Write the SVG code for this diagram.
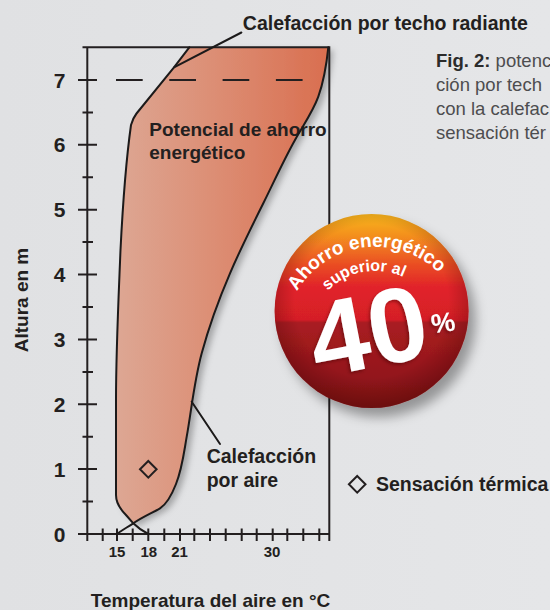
<svg xmlns="http://www.w3.org/2000/svg" width="550" height="610" viewBox="0 0 550 610">
<defs>
<style>
.ax{stroke:#231f20;stroke-width:2;fill:none}
.crv{stroke:#1c1a1a;stroke-width:2;fill:none;stroke-linejoin:round;stroke-linecap:round}
.lbl{font-family:"Liberation Sans",Arial,sans-serif;font-weight:bold;fill:#231f20}
.num{font-family:"Liberation Sans",Arial,sans-serif;font-weight:bold;fill:#231f20}
.cap{font-family:"Liberation Sans",Arial,sans-serif;font-size:18.5px;fill:#4d4d4f}
.bw{font-family:"Liberation Sans",Arial,sans-serif;font-weight:bold;fill:#ffffff}
</style>
<linearGradient id="bg" x1="0" y1="0" x2="1" y2="0">
<stop offset="0" stop-color="#e0e1e3"/>
<stop offset="1" stop-color="#e5e6e8"/>
</linearGradient>
<linearGradient id="area" gradientUnits="userSpaceOnUse" x1="112" y1="0" x2="330" y2="0">
<stop offset="0" stop-color="#dda895"/>
<stop offset="0.5" stop-color="#dc8c72"/>
<stop offset="1" stop-color="#d96e4f"/>
</linearGradient>
<linearGradient id="badgeG" x1="0" y1="0" x2="0" y2="1">
<stop offset="0" stop-color="#f8b81f"/>
<stop offset="0.12" stop-color="#f38c1f"/>
<stop offset="0.26" stop-color="#ea4e23"/>
<stop offset="0.38" stop-color="#e1222a"/>
<stop offset="0.545" stop-color="#d51f27"/>
<stop offset="0.56" stop-color="#a91c21"/>
<stop offset="1" stop-color="#861417"/>
</linearGradient>
<radialGradient id="badgeEdge" cx="0.5" cy="0.45" r="0.55">
<stop offset="0.72" stop-color="#3a0000" stop-opacity="0"/>
<stop offset="1" stop-color="#3a0000" stop-opacity="0.35"/>
</radialGradient>
<filter id="areaShadow" x="-20%" y="-10%" width="140%" height="120%">
<feDropShadow dx="5" dy="3" stdDeviation="3" flood-color="#000" flood-opacity="0.28"/>
</filter>
<filter id="badgeShadow" x="-30%" y="-30%" width="160%" height="160%">
<feDropShadow dx="7" dy="9" stdDeviation="6" flood-color="#000" flood-opacity="0.35"/>
</filter>
<filter id="txtShadow" x="-20%" y="-20%" width="140%" height="140%">
<feDropShadow dx="-1.5" dy="2" stdDeviation="1.5" flood-color="#400000" flood-opacity="0.45"/>
</filter>
<path id="arcOuter" d="M284.3,337.8 A91,91 0 0 1 466.3,337.8"/>
<path id="arcInner" d="M308.3,337.8 A67,67 0 0 1 442.3,337.8"/>
</defs>

<rect width="550" height="610" fill="url(#bg)"/>

<g id="savings-area">
<path filter="url(#areaShadow)" fill="url(#area)" d="M189.3,47.3 L328.3,47.3 C326.6,63.8 324.1,80.2 318.3,96.7 C313.2,111.1 303.1,125.6 295,140 C283.2,161.1 273.8,182.2 263.3,203.3 C251.6,226.6 240,250 230,273.3 C218.5,300 208.9,326.6 201.7,353.3 C194.2,381.1 191.6,408.9 186.7,436.7 C183.9,452.5 182.3,468.2 176,484 C172.5,493 167,504 160,508.3 C152,513 142,517 133.3,523.3 L126,515 C120,509 116,503 116,495 L116,400 C116,350 118.5,300 120.5,250 C123,200 127.5,150 131,125 Q133,118 136.5,113.5 L174,67.3 Z"/>
<text class="lbl" x="149.3" y="135.5" font-size="19">Potencial de ahorro</text>
<text class="lbl" x="149.3" y="158.5" font-size="19">energético</text>
</g>

<g id="axes">
<path class="ax" d="M87.3,47.3 V541 M82.5,47.3 H329.3 V541 M78,534 H329.3"/>
<path class="ax" d="M78,469.1H97 M78,404.3H97 M78,339.4H97 M78,274.6H97 M78,209.7H97 M78,144.8H97 M78,80H97"/>
<path class="ax" d="M82.5,501.6H93 M82.5,436.7H93 M82.5,371.9H93 M82.5,307H93 M82.5,242.1H93 M82.5,177.3H93 M82.5,112.4H93"/>
<path class="ax" d="M102.7,528.5V541 M117,528.5V541 M132.7,528.5V541 M148.3,528.5V541 M164.3,528.5V541 M180,528.5V541 M194.3,528.5V541 M210,528.5V541 M225.7,528.5V541 M241.7,528.5V541 M256.7,528.5V541 M272.7,528.5V541 M287.3,528.5V541 M303.3,528.5V541 M319.3,528.5V541"/>
<line x1="116" y1="80" x2="329.3" y2="80" stroke="#231f20" stroke-width="1.8" stroke-dasharray="26.7 26.6"/>
<g class="num" font-size="21" text-anchor="end">
<text x="65.5" y="541.5">0</text>
<text x="65.5" y="476.6">1</text>
<text x="65.5" y="411.8">2</text>
<text x="65.5" y="346.9">3</text>
<text x="65.5" y="282.1">4</text>
<text x="65.5" y="217.2">5</text>
<text x="65.5" y="152.3">6</text>
<text x="65.5" y="87.5">7</text>
</g>
<g class="num" font-size="15" text-anchor="middle">
<text x="117" y="557">15</text>
<text x="148.8" y="557">18</text>
<text x="179.6" y="557">21</text>
<text x="272" y="557">30</text>
</g>
<text class="lbl" font-size="19" text-anchor="middle" transform="translate(28.3,300) rotate(-90)">Altura en m</text>
<text class="lbl" font-size="19" text-anchor="middle" x="210.5" y="606.5">Temperatura del aire en °C</text>
</g>

<g id="curve-ceiling">
<path class="crv" d="M189.3,47.3 L174,67.3 L136.5,113.5 Q133,118 131,125 C127.5,150 123,200 120.5,250 C118.5,300 116,350 116,400 L116,495 C116,503 120,509 126,515 L133.3,523.3 C138,528 143,531.5 148.3,534"/>
<text class="lbl" x="242.8" y="29.5" font-size="19.5">Calefacción por techo radiante</text>
</g>

<g id="curve-air">
<path class="crv" d="M328.3,47.3 C326.6,63.8 324.1,80.2 318.3,96.7 C313.2,111.1 303.1,125.6 295,140 C283.2,161.1 273.8,182.2 263.3,203.3 C251.6,226.6 240,250 230,273.3 C218.5,300 208.9,326.6 201.7,353.3 C194.2,381.1 191.6,408.9 186.7,436.7 C183.9,452.5 182.3,468.2 176,484 C172.5,493 167,504 160,508.3 C152,513 142,517 133.3,523.3 C126,528 121,531 116.7,534"/>
<text class="lbl" x="206.7" y="463" font-size="19.5">Calefacción</text>
<text class="lbl" x="206.7" y="487" font-size="19.5">por aire</text>
</g>

<g id="connectors">
<line class="crv" x1="174" y1="67.3" x2="241.4" y2="32.5"/>
<line class="crv" x1="191.7" y1="401.7" x2="220" y2="444"/>
</g>

<g id="comfort-marker">
<path d="M148.3,461 L156.6,469.3 L148.3,477.6 L140,469.3 Z" fill="none" stroke="#231f20" stroke-width="2"/>
</g>

<g id="legend">
<path d="M357.2,476 L365.5,484.3 L357.2,492.6 L348.9,484.3 Z" fill="none" stroke="#231f20" stroke-width="2"/>
<text class="lbl" x="376" y="491" font-size="19.5">Sensación térmica</text>
</g>

<g id="badge">
<circle cx="371.6" cy="311" r="97" fill="url(#badgeG)" filter="url(#badgeShadow)"/>
<circle cx="371.6" cy="311" r="97" fill="url(#badgeEdge)"/>
<text class="bw" font-size="19" text-anchor="middle"><textPath href="#arcOuter" startOffset="131">Ahorro energético</textPath></text>
<text class="bw" font-size="16" text-anchor="middle"><textPath href="#arcInner" startOffset="93">superior al</textPath></text>
<g filter="url(#txtShadow)">
<text class="bw" font-size="106" text-anchor="middle" x="368" y="367.5" transform="rotate(-11 368 330)">40</text>
<text class="bw" font-size="27" x="431" y="332" transform="rotate(-8 442 322)">%</text>
</g>
</g>

<g id="caption">
<text class="cap" x="436" y="66.7"><tspan font-weight="bold" fill="#2b2b2b">Fig. 2:</tspan> potenc</text>
<text class="cap" x="436" y="91">ción por tech</text>
<text class="cap" x="436" y="115">con la calefac</text>
<text class="cap" x="436" y="139.3">sensación tér</text>
</g>
</svg>
